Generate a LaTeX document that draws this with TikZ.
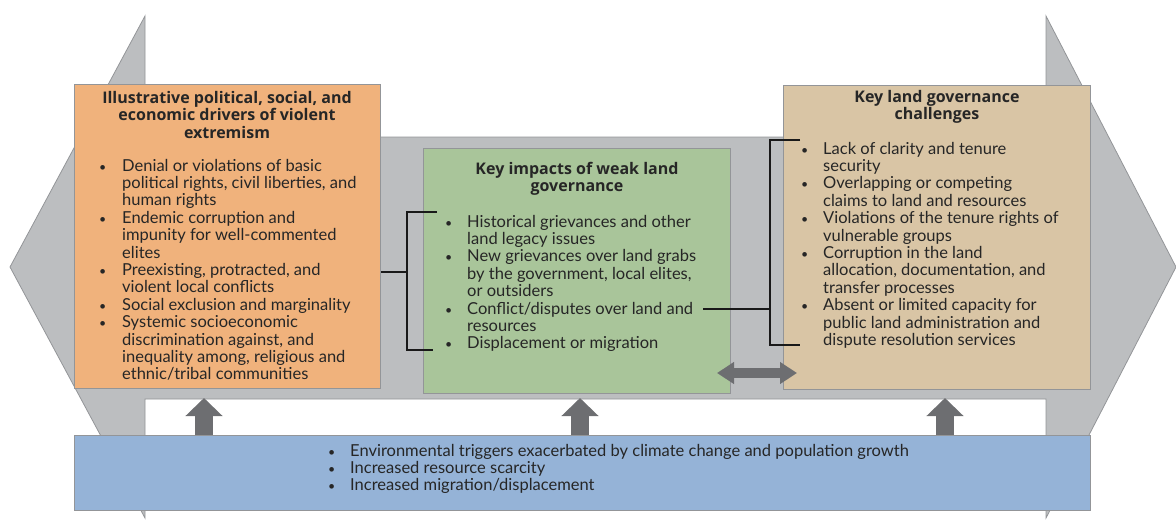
\documentclass[tikz,border=0pt]{standalone}
\usepackage{fontspec}
\setmainfont{Lato}
\newfontfamily\headfont{Open Sans}
\usetikzlibrary{arrows.meta, positioning}

\definecolor{shaftgrey}{HTML}{BCBEC0}
\definecolor{edgegrey}{HTML}{939598}
\definecolor{drvorange}{HTML}{F0B27C}
\definecolor{impgreen}{HTML}{A9C59A}
\definecolor{chltan}{HTML}{D9C5A5}
\definecolor{envblue}{HTML}{95B3D7}
\definecolor{darkarrow}{HTML}{6D6E71}
\definecolor{textdark}{HTML}{262626}

\newcommand{\blt}{\scalebox{0.75}{\textbullet}}

\begin{document}
\begin{tikzpicture}[
    x=1pt, y=-1pt,
    box/.style={rectangle, draw=edgegrey, line width=0.8pt, anchor=north west, inner sep=0pt},
    head/.style={anchor=base, inner sep=0pt, text=textdark, font=\headfont\bfseries\fontsize{16}{17.5}\selectfont},
    items/.style={anchor=base west, inner sep=0pt, text=textdark, font=\fontsize{16.5}{17.4}\selectfont},
    bracket/.style={line width=2.6pt, black!90},
    blockarrow/.style={line width=18pt, darkarrow, -{Triangle[width=36pt, length=18pt]}},
    twoway/.style={line width=10pt, darkarrow, {Triangle[width=21pt, length=17pt]}-{Triangle[width=21pt, length=17pt]}}
]
    \useasboundingbox (0,0) rectangle (1176,528);

    % Big grey double arrow behind everything
    \fill[shaftgrey, draw=edgegrey, line width=0.8pt]
        (10,267) -- (145,16) -- (145,137) -- (1046,137) -- (1046,16) -- (1176,267)
        -- (1046,518) -- (1046,399) -- (145,399) -- (145,518) -- cycle;

    % Boxes
    \node[box, fill=drvorange, minimum width=306pt, minimum height=304pt] (drv) at (74,84) {};
    \node[box, fill=impgreen, minimum width=307pt, minimum height=245pt] (imp) at (423,148) {};
    \node[box, fill=chltan, minimum width=307pt, minimum height=304pt] (chl) at (783,85) {};
    \node[box, fill=envblue, minimum width=1016pt, minimum height=75pt] (env) at (74,435) {};

    % Drivers
    \node[head] (drvhead) at (227,103) {\begin{tabular}[t]{@{}c@{}}
        Illustrative political, social, and\\economic drivers of violent\\extremism
    \end{tabular}};
    \node[items] (drvlist) at (99,171) {\begin{tabular}[t]{@{}p{23pt}@{}l@{}}
        \blt & Denial or violations of basic\\
             & political rights, civil liberties, and\\
             & human rights\\
        \blt & Endemic corruption and\\
             & impunity for well-commented\\
             & elites\\
        \blt & Preexisting, protracted, and\\
             & violent local conflicts\\
        \blt & Social exclusion and marginality\\
        \blt & Systemic socioeconomic\\
             & discrimination against, and\\
             & inequality among, religious and\\
             & ethnic/tribal communities
    \end{tabular}};

    % Impacts
    \node[head] (imphead) at (577,174) {\begin{tabular}[t]{@{}c@{}}
        Key impacts of weak land\\governance
    \end{tabular}};
    \node[items] (implist) at (445,227) {\begin{tabular}[t]{@{}p{22pt}@{}l@{}}
        \blt & Historical grievances and other\\
             & land legacy issues\\
        \blt & New grievances over land grabs\\
             & by the government, local elites,\\
             & or outsiders\\
        \blt & Conflict/disputes over land and\\
             & resources\\
        \blt & Displacement or migration
    \end{tabular}};

    % Challenges
    \node[head] (chlhead) at (937,102) {\begin{tabular}[t]{@{}c@{}}
        Key land governance\\challenges
    \end{tabular}};
    \node[items] (chllist) at (801,154) {\begin{tabular}[t]{@{}p{22pt}@{}l@{}}
        \blt & Lack of clarity and tenure\\
             & security\\
        \blt & Overlapping or competing\\
             & claims to land and resources\\
        \blt & Violations of the tenure rights of\\
             & vulnerable groups\\
        \blt & Corruption in the land\\
             & allocation, documentation, and\\
             & transfer processes\\
        \blt & Absent or limited capacity for\\
             & public land administration and\\
             & dispute resolution services
    \end{tabular}};

    % Environment
    \node[items] (envlist) at (328,456) {\begin{tabular}[t]{@{}p{22pt}@{}l@{}}
        \blt & Environmental triggers exacerbated by climate change and population growth\\
        \blt & Increased resource scarcity\\
        \blt & Increased migration/displacement
    \end{tabular}};

    % Brackets
    \coordinate (lb) at (407,272);
    \draw[bracket] (drv.east |- lb) -- (lb);
    \draw[bracket] (437,212) -- (407,212) -- (407,350) -- (433,350);
    \coordinate (rb) at (770,309);
    \draw[bracket] (703,309) -- (rb);
    \draw[bracket] (800,140) -- (770,140) -- (770,345) -- (800,345);

    % Arrows from the triggers up into the chain
    \coordinate (up1) at (204,398);
    \coordinate (up2) at (580,398);
    \coordinate (up3) at (945,398);
    \draw[blockarrow] (env.north -| up1) -- (up1);
    \draw[blockarrow] (env.north -| up2) -- (up2);
    \draw[blockarrow] (env.north -| up3) -- (up3);

    % Two-way arrow between impacts and challenges
    \coordinate (tw1) at (717,373);
    \coordinate (tw2) at (797,373);
    \draw[twoway] (tw1) -- (tw2);

\end{tikzpicture}
\end{document}
